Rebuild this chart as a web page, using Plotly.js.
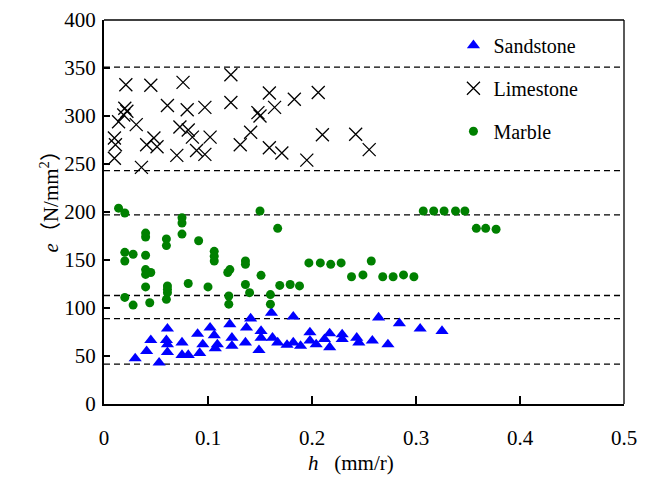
<!DOCTYPE html>
<html>
<head>
<meta charset="utf-8">
<script src="https://cdn.plot.ly/plotly-3.0.1.min.js"></script>
<style>html,body{margin:0;padding:0;background:#fff;}#chart{width:656px;height:482px;}</style>
</head>
<body>
<div id="chart"></div>
<script>
// ---- data ----
var sandstoneH = [0.030,0.041,0.045,0.053,0.061,0.060,0.061,0.061,0.075,0.075,0.081,0.090,0.095,0.092,0.102,0.106,0.109,0.107,0.121,0.123,0.123,0.141,0.137,0.136,0.149,0.151,0.151,0.161,0.162,0.167,0.176,0.182,0.182,0.189,0.198,0.198,0.204,0.212,0.217,0.217,0.229,0.229,0.243,0.245,0.258,0.264,0.273,0.284,0.304,0.325];
var sandstoneE = [47.5,55,66.5,43,78.5,66.5,62,54,64,51,51,73,62,53,79.5,71.5,62,58,83,69,60.5,89,79.5,64,56,76,69,95,69,64,61.5,91,64,60.5,74.5,66,62,67.5,73.5,59,72.5,67.5,69,64,66,90,62,84,78.5,76];

var limestoneH = [0.021,0.045,0.076,0.122,0.159,0.183,0.206,0.020,0.022,0.019,0.061,0.080,0.097,0.122,0.148,0.150,0.164,0.014,0.031,0.073,0.081,0.085,0.102,0.141,0.210,0.242,0.255,0.010,0.011,0.041,0.048,0.051,0.070,0.089,0.097,0.131,0.159,0.171,0.195,0.010,0.036];
var limestoneE = [332.5,332,335,343,324,317.5,324.5,308,305,301,311,306.5,309,314,303.5,300,309,294,291,288.5,285.5,278,278,283,280.5,281,265,277,270,270,277,268,259,264,260,270,267,261.5,254,256,246.5];

var marbleH = [0.014,0.020,0.150,0.075,0.075,0.167,0.040,0.040,0.075,0.060,0.060,0.091,0.020,0.028,0.040,0.106,0.106,0.106,0.020,0.040,0.040,0.045,0.136,0.136,0.121,0.119,0.151,0.197,0.208,0.218,0.228,0.257,0.238,0.249,0.268,0.278,0.288,0.298,0.040,0.061,0.061,0.061,0.081,0.100,0.136,0.140,0.169,0.179,0.188,0.020,0.060,0.120,0.160,0.028,0.044,0.120,0.160,0.307,0.317,0.327,0.338,0.347,0.358,0.367,0.377];
var marbleE = [204,199,201,194,188.5,183,178,174,177,172,165,170,158,156,155,159,154,149,149,140,135,137,149,145.5,140,137,134,147,147,145.5,147,149,132.5,134.5,132.5,132.5,134.5,132.5,122,123,119.5,116,125.5,122,124.5,116,123.5,124.5,123,111,109,112.5,114,103,105.5,104,104,201,201,201,201,201,183,183,182];

var refLines = [351, 243, 197, 113, 89, 41.5];

var xTicks = [0, 0.1, 0.2, 0.3, 0.4, 0.5];
var xTickText = ['0', '0.1', '0.2', '0.3', '0.4', '0.5'];
var yTicks = [0, 50, 100, 150, 200, 250, 300, 350, 400];
var yTickText = ['0', '50', '100', '150', '200', '250', '300', '350', '400'];

var FONT = 'Liberation Serif, Times New Roman, serif';
var FONT_CJK = 'Liberation Serif, Noto Sans CJK SC, serif';

var traces = [
  {x: sandstoneH, y: sandstoneE, name: 'Sandstone', legendgroup: 'a', type: 'scatter', mode: 'markers',
   marker: {symbol: 'triangle-up', size: 11.5, color: '#0000FF'}},
  {x: limestoneH, y: limestoneE, name: 'Limestone', legendgroup: 'b', type: 'scatter', mode: 'markers',
   marker: {symbol: 'x-thin-open', size: 13, color: '#000000', line: {color: '#000000', width: 1.3}}},
  {x: marbleH, y: marbleE, name: 'Marble', legendgroup: 'c', type: 'scatter', mode: 'markers',
   marker: {symbol: 'circle', size: 9, color: '#008000'}}
];

var shapes = refLines.map(function (v) {
  return {type: 'line', xref: 'paper', yref: 'y', x0: 0, x1: 1, y0: v, y1: v,
          line: {color: '#000', width: 1.3, dash: '6px,4px'}, layer: 'below'};
});
shapes.push({type: 'line', xref: 'paper', yref: 'paper', x0: 0, x1: 1, y0: 1, y1: 1, line: {color: '#000', width: 1.3}});
shapes.push({type: 'line', xref: 'paper', yref: 'paper', x0: 1, x1: 1, y0: 0, y1: 1, line: {color: '#000', width: 1.3}});

var layout = {
  width: 656, height: 482,
  margin: {l: 104, r: 32, t: 20, b: 78},
  paper_bgcolor: '#fff', plot_bgcolor: '#fff',
  font: {family: FONT, size: 21, color: '#000'},
  showlegend: true,
  legend: {x: 0.672, y: 0.985, xanchor: 'left', yanchor: 'top', bgcolor: 'rgba(0,0,0,0)',
           font: {family: FONT, size: 20, color: '#000'}, traceorder: 'grouped', tracegroupgap: 14, itemwidth: 30},
  xaxis: {range: [0, 0.5], tickvals: xTicks, ticktext: xTickText, ticks: 'inside', ticklen: 8, tickwidth: 1.3,
          tickcolor: '#000', showline: true, linecolor: '#000', linewidth: 2, showgrid: false, zeroline: false,
          tickfont: {family: FONT, size: 21}, ticklabelstandoff: 14,
          title: {text: '<i>h</i>&nbsp;&nbsp;&nbsp;(mm/r)&nbsp;&nbsp;&nbsp;&nbsp;&nbsp;', font: {family: FONT, size: 21}, standoff: 6}},
  yaxis: {range: [0, 400], tickvals: yTicks, ticktext: yTickText, ticks: 'inside', ticklen: 6, tickwidth: 1.3,
          tickcolor: '#000', showline: true, linecolor: '#000', linewidth: 2, showgrid: false, zeroline: false,
          tickfont: {family: FONT, size: 21}, ticklabelstandoff: 2,
          title: {text: '&nbsp;&nbsp;&nbsp;&nbsp;&nbsp;&nbsp;<i>e</i>（N/mm<sup>2</sup>）', font: {family: FONT_CJK, size: 21}, standoff: 0}},
  shapes: shapes
};

Plotly.newPlot('chart', traces, layout, {staticPlot: true, displayModeBar: false});
</script>
</body>
</html>
